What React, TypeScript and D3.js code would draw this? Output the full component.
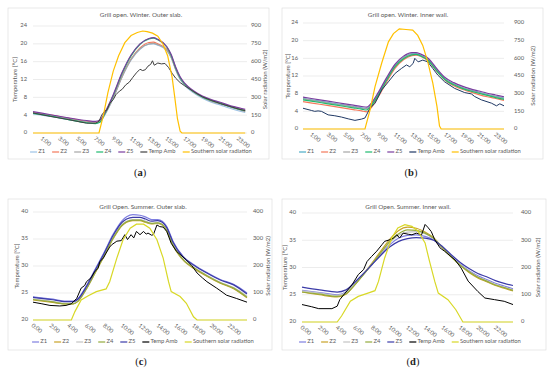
import * as d3 from "d3";

type Pt = [number, number];

const zoneNames = ["Z1", "Z2", "Z3", "Z4", "Z5"];
const winterTicks = [1, 3, 5, 7, 9, 11, 13, 15, 17, 19, 21, 23];
const summerTicks = [0, 2, 4, 6, 8, 10, 12, 14, 16, 18, 20, 22];
const winterTemp = [0, 4, 8, 12, 16, 20, 24];
const winterSolar = [0, 150, 300, 450, 600, 750, 900];
const summerTemp = [20, 25, 30, 35, 40];
const summerSolar = [0, 100, 200, 300, 400];

// (a) winter, outer slab
const aHours = [0, 2, 4, 6, 7, 7.5, 8, 9, 10, 11, 12, 13, 13.5, 14, 15, 15.5, 16, 16.5, 17, 18, 19, 20, 21, 22, 23, 23.8];
const aZ1 = [4.3, 3.7, 3.0, 2.3, 2.2, 2.5, 3.9, 7.8, 12.6, 16.4, 18.8, 19.9, 20.0, 19.7, 18.5, 16.9, 14.2, 12.0, 10.7, 9.0, 7.8, 6.9, 6.3, 5.6, 5.0, 4.6];
const aZ2 = [4.6, 4.0, 3.3, 2.6, 2.4, 2.7, 4.1, 8.0, 12.8, 16.6, 19.1, 20.3, 20.4, 20.0, 18.8, 17.1, 14.4, 12.3, 11.0, 9.3, 8.1, 7.3, 6.7, 6.0, 5.5, 5.1];
const aZ3 = [4.5, 3.9, 3.2, 2.5, 2.3, 2.6, 4.0, 7.9, 12.7, 16.5, 18.9, 20.0, 20.1, 19.8, 18.6, 17.0, 14.3, 12.2, 10.9, 9.2, 8.0, 7.1, 6.5, 5.9, 5.3, 4.8];
const aZ4 = [4.4, 3.8, 3.0, 2.3, 2.1, 2.4, 4.1, 8.4, 13.4, 17.3, 19.9, 21.1, 21.3, 20.9, 19.3, 17.4, 14.6, 12.4, 11.0, 9.3, 8.1, 7.3, 6.7, 6.0, 5.4, 5.0];
const aZ5 = [4.8, 4.1, 3.4, 2.8, 2.6, 2.9, 4.4, 8.6, 13.6, 17.5, 20.0, 21.2, 21.4, 21.0, 19.4, 17.6, 14.8, 12.6, 11.2, 9.5, 8.3, 7.5, 6.9, 6.2, 5.7, 5.3];
const aAmb: Pt[] = [[0, 4.5], [2, 3.7], [4, 3.0], [6, 2.2], [7, 2.2], [7.4, 2.6], [7.7, 4.0], [8, 4.8], [8.3, 5.2], [8.6, 6.6], [9, 7.5], [9.3, 8.6], [9.7, 9.4], [10, 9.8], [10.4, 10.8], [10.8, 11.4], [11.2, 12.5], [11.6, 13.5], [12, 14.3], [12.3, 14.0], [12.6, 14.2], [12.9, 15.0], [13.2, 15.4], [13.4, 16.2], [13.6, 15.2], [14, 15.7], [14.4, 15.5], [14.8, 15.6], [15.2, 14.7], [15.6, 13.4], [16, 12.3], [16.5, 11.3], [17, 10.6], [18, 9.3], [19, 8.1], [20, 7.3], [21, 6.6], [22, 6.0], [23, 5.4], [23.8, 5.0]];
const aSolar: Pt[] = [[0, 0], [7.4, 0], [7.9, 150], [8.4, 340], [9.0, 520], [9.6, 650], [10.3, 760], [11.0, 820], [11.7, 845], [12.3, 858], [12.8, 852], [13.4, 840], [14.0, 815], [14.6, 745], [15.1, 650], [15.6, 470], [15.9, 300], [16.2, 120], [16.5, 15], [16.7, 0], [23.8, 0]];

// (b) winter, inner wall
const bHours = [0, 2, 4, 6, 7, 7.6, 8, 9, 10, 11, 12, 13, 13.5, 14, 15, 16, 17, 18, 19, 20, 21, 22, 23, 24];
const bZ1 = [6.9, 6.3, 5.7, 5.1, 4.8, 4.65, 5.2, 8.0, 11.4, 14.4, 16.2, 17.0, 17.0, 16.7, 15.6, 13.3, 11.3, 10.2, 9.4, 8.8, 8.3, 7.8, 7.4, 7.0];
const bZ2 = [6.2, 5.6, 5.0, 4.4, 4.1, 3.9, 4.5, 7.3, 10.7, 13.8, 15.7, 16.6, 16.7, 16.5, 15.3, 13.0, 11.0, 9.8, 9.0, 8.4, 7.8, 7.3, 6.9, 6.5];
const bZ3 = [6.8, 6.2, 5.6, 5.0, 4.7, 4.55, 5.1, 7.9, 11.3, 14.3, 16.1, 16.9, 16.9, 16.6, 15.5, 13.2, 11.2, 10.1, 9.3, 8.7, 8.2, 7.7, 7.3, 6.9];
const bZ4 = [6.6, 6.0, 5.4, 4.8, 4.5, 4.3, 4.9, 7.7, 11.1, 14.1, 15.9, 16.8, 16.9, 16.6, 15.4, 13.1, 11.1, 10.0, 9.2, 8.6, 8.1, 7.6, 7.1, 6.7];
const bZ5 = [7.2, 6.6, 6.0, 5.4, 5.1, 4.95, 5.5, 8.3, 11.7, 14.7, 16.5, 17.3, 17.3, 17.0, 15.9, 13.6, 11.6, 10.5, 9.7, 9.1, 8.6, 8.1, 7.7, 7.3];
const bAmb: Pt[] = [[0, 4.7], [1, 4.2], [1.4, 4.0], [1.8, 4.1], [2.2, 4.0], [3.0, 3.2], [3.8, 3.0], [4.6, 2.7], [5.4, 2.3], [6.2, 1.95], [7.0, 2.25], [7.4, 2.5], [8.0, 4.7], [8.6, 5.85], [9.4, 8.85], [10.2, 10.7], [11.0, 12.6], [11.75, 13.7], [12.35, 14.5], [12.75, 14.1], [13.15, 14.85], [13.35, 16.0], [13.75, 15.2], [14.3, 15.6], [14.9, 15.2], [15.5, 13.7], [16.1, 12.2], [16.9, 10.7], [18.1, 9.2], [19.3, 8.25], [20.1, 7.95], [20.5, 7.35], [21.3, 6.6], [22.5, 5.85], [23.1, 5.25], [23.5, 5.7], [24, 5.25]];
const bSolar: Pt[] = [[0, 0], [7.4, 0], [8.0, 160], [8.6, 360], [9.4, 560], [10.2, 740], [10.8, 810], [11.5, 850], [12.3, 845], [13.1, 840], [13.7, 795], [14.3, 710], [14.9, 570], [15.5, 390], [16.0, 190], [16.3, 25], [16.5, 0], [24, 0]];

// (c) summer, outer slab
const cHours = [0, 2, 3.7, 4.5, 5, 6, 7, 8, 9, 10, 10.5, 11.2, 12, 12.6, 13.3, 14, 14.5, 15, 15.7, 17, 18, 19.5, 21, 22.5, 24];
const cZ1 = [24.3, 23.9, 23.5, 23.5, 23.9, 26.4, 29.5, 32.6, 35.9, 38.4, 39.1, 39.5, 39.4, 39.1, 38.6, 38.6, 38.3, 37.3, 34.6, 31.5, 30.3, 28.8, 27.5, 26.6, 25.0];
const cZ2 = [23.7, 23.3, 23.0, 23.0, 23.4, 25.8, 28.8, 31.9, 35.1, 37.5, 38.1, 38.4, 38.4, 38.1, 37.8, 37.9, 37.6, 36.5, 33.8, 30.8, 29.6, 28.1, 26.8, 25.8, 24.1];
const cZ3 = [23.9, 23.5, 23.1, 23.1, 23.5, 25.9, 29.0, 32.1, 35.3, 37.7, 38.3, 38.6, 38.6, 38.3, 37.9, 38.0, 37.7, 36.7, 34.0, 31.0, 29.8, 28.3, 27.0, 26.0, 24.4];
const cZ4 = [23.8, 23.4, 23.0, 23.0, 23.4, 25.8, 28.9, 32.0, 35.2, 37.6, 38.2, 38.5, 38.5, 38.2, 37.9, 38.0, 37.7, 36.6, 33.9, 30.9, 29.7, 28.2, 26.9, 25.9, 24.2];
const cZ5 = [24.2, 23.8, 23.4, 23.4, 23.8, 26.2, 29.3, 32.4, 35.7, 38.1, 38.7, 39.0, 39.0, 38.7, 38.3, 38.4, 38.1, 37.1, 34.4, 31.4, 30.2, 28.7, 27.4, 26.5, 24.8];
const cAmb: Pt[] = [[0, 23.3], [1, 23.0], [1.9, 22.7], [3, 22.6], [3.7, 22.7], [4.3, 23.0], [4.9, 24.0], [5.4, 25.9], [5.8, 26.4], [6.0, 27.1], [6.5, 27.8], [6.9, 28.9], [7.3, 29.6], [7.5, 30.8], [7.9, 31.5], [8.2, 32.4], [8.6, 33.5], [8.8, 33.9], [9.4, 34.6], [9.9, 34.7], [10.3, 35.8], [10.6, 34.9], [11.0, 35.8], [11.3, 35.2], [11.6, 36.4], [12.0, 35.8], [12.4, 36.4], [12.7, 35.9], [12.9, 36.1], [13.3, 35.7], [13.5, 35.8], [13.9, 37.6], [14.2, 37.3], [14.6, 37.2], [15.0, 36.4], [15.5, 34.2], [16.1, 32.7], [16.6, 32.0], [17.2, 31.1], [17.8, 30.1], [18.4, 28.7], [19.0, 27.8], [19.5, 27.1], [20.6, 25.9], [21.2, 25.2], [21.7, 24.6], [22.8, 24.0], [24, 23.3]];
const cSolar: Pt[] = [[0, 0], [4.3, 0], [4.7, 31], [5.4, 74], [6.2, 90], [7.1, 105], [8.2, 115], [8.6, 142], [9.4, 229], [10.1, 297], [10.9, 340], [11.6, 355], [12.4, 355], [13.1, 340], [13.9, 297], [14.6, 229], [15.2, 142], [15.5, 105], [16.5, 87], [17.2, 62], [18.0, 12], [18.4, 0], [24, 0]];

// (d) summer, inner wall
const dHours = [0, 2, 4, 5, 6, 7, 8, 9, 10, 11, 12, 13, 14, 15, 16, 17, 18, 19, 20, 21, 22, 23, 24];
const dZ1 = [25.8, 25.4, 25.0, 25.5, 27.0, 28.8, 30.6, 32.5, 34.2, 35.4, 35.9, 36.0, 35.7, 35.0, 33.6, 32.0, 30.6, 29.4, 28.5, 27.8, 27.1, 26.6, 26.1];
const dZ2 = [25.5, 25.0, 24.6, 25.1, 26.8, 28.8, 30.9, 33.1, 35.2, 36.8, 37.4, 37.2, 36.5, 35.4, 33.6, 31.9, 30.4, 29.1, 28.1, 27.4, 26.7, 26.2, 25.7];
const dZ3 = [25.7, 25.3, 24.9, 25.4, 27.0, 28.8, 30.7, 32.7, 34.6, 35.9, 36.5, 36.6, 36.2, 35.3, 33.7, 32.0, 30.5, 29.3, 28.3, 27.6, 26.9, 26.4, 25.9];
const dZ4 = [25.5, 25.1, 24.7, 25.2, 26.8, 28.7, 30.7, 32.8, 34.8, 36.2, 36.9, 36.8, 36.3, 35.3, 33.6, 31.9, 30.4, 29.2, 28.2, 27.5, 26.8, 26.3, 25.8];
const dZ5 = [26.4, 25.9, 25.5, 25.9, 27.3, 28.9, 30.6, 32.3, 33.8, 34.8, 35.3, 35.5, 35.4, 35.0, 33.8, 32.3, 30.9, 29.8, 28.9, 28.3, 27.6, 27.1, 26.7];
const dAmb: Pt[] = [[0, 23.2], [1.1, 22.8], [1.9, 22.45], [3.4, 22.45], [4.0, 22.9], [4.3, 24.1], [4.9, 25.3], [5.7, 26.85], [6.4, 28.7], [7.0, 29.6], [7.4, 31.1], [7.9, 32.0], [8.5, 33.0], [9.1, 34.2], [9.4, 34.8], [10.0, 35.1], [10.4, 35.4], [10.8, 36.0], [11.1, 35.4], [11.5, 36.3], [12.1, 36.1], [12.5, 36.0], [13.0, 36.3], [13.6, 36.0], [14.0, 37.9], [14.3, 37.4], [14.7, 36.6], [15.1, 35.1], [15.7, 33.6], [16.2, 33.0], [17.4, 31.4], [18.1, 29.9], [18.9, 27.5], [20.0, 25.6], [20.8, 24.4], [21.9, 24.1], [23.0, 23.8], [24, 23.2]];
const dSolar: Pt[] = [[0, 0], [4.0, 0], [4.5, 22], [5.5, 76], [6.4, 94], [7.5, 106], [8.3, 115], [8.7, 149], [9.4, 235], [10.2, 308], [10.9, 345], [11.7, 357], [12.5, 351], [13.2, 333], [14.0, 290], [14.5, 223], [15.1, 149], [15.5, 106], [16.6, 82], [17.5, 45], [18.3, 0], [24, 0]];

const FONT = "Lato, 'Open Sans', sans-serif";
const GREY = "#595959";

const ctx = typeof document !== "undefined" ? document.createElement("canvas").getContext("2d") : null;
const textWidth = (s: string, size: number) => {
  if (!ctx) return s.length * size * 0.5;
  ctx.font = `${size}px Lato`;
  return ctx.measureText(s).width;
};

interface PanelProps {
  box: [number, number, number, number];
  left: number; right: number; top: number; bottom: number;
  title: string; titleX: number; titleY: number;
  tTicks: number[]; wTicks: number[]; xTicks: number[];
  hours: number[]; zones: number[][]; amb: Pt[]; solar: Pt[];
  zColors: string[]; ambColor: string; solarColor: string;
  leftTitleX: number; rightTitleX: number; leftLabelX: number; rightLabelX: number;
  legendY: number; legendCx: number;
  caption: string; captionX: number; captionY: number;
}

function Panel(p: PanelProps) {
  const x = d3.scaleLinear().domain([0, 24]).range([p.left, p.right]);
  const y = d3.scaleLinear().domain(d3.extent(p.tTicks) as [number, number]).range([p.bottom, p.top]);
  const yr = d3.scaleLinear().domain(d3.extent(p.wTicks) as [number, number]).range([p.bottom, p.top]);
  const tLine = d3.line<Pt>().x(d => x(d[0])).y(d => y(d[1]));
  const smooth = d3.line<Pt>().x(d => x(d[0])).y(d => y(d[1])).curve(d3.curveMonotoneX);
  const sLine = d3.line<Pt>().x(d => x(d[0])).y(d => yr(d[1]));
  const midY = (p.top + p.bottom) / 2;

  // legend layout, centred under the plot
  const names = [...zoneNames, "Temp Amb", "Southern solar radiation"];
  const colors = [...p.zColors, p.ambColor, p.solarColor];
  const fs = 5.8;
  const widths = names.map(n => 7 + 1.2 + textWidth(n, fs));
  const gap = 7;
  const total = d3.sum(widths) + gap * (names.length - 1);
  let cx = p.legendCx - total / 2;
  const items = names.map((n, i) => {
    const it = { n, c: colors[i], x: cx };
    cx += widths[i] + gap;
    return it;
  });

  return (
    <g>
      <rect x={p.box[0]} y={p.box[1]} width={p.box[2]} height={p.box[3]} fill="#fff" stroke="#d9d9d9" strokeWidth={0.6} />
      <text x={p.titleX} y={p.titleY} fontSize={6.3} fill={GREY} textAnchor="middle" dominantBaseline="middle">{p.title}</text>
      {p.tTicks.map(t => (
        <g key={t}>
          <line x1={p.left} x2={p.right} y1={y(t)} y2={y(t)} stroke="#d9d9d9" strokeWidth={0.5} />
          <text x={p.leftLabelX} y={y(t)} fontSize={5.8} fill={GREY} textAnchor="end" dominantBaseline="middle">{t}</text>
        </g>
      ))}
      {p.wTicks.map(w => (
        <text key={w} x={p.rightLabelX} y={yr(w)} fontSize={5.8} fill={GREY} dominantBaseline="middle">{w}</text>
      ))}
      {p.xTicks.map(h => (
        <text key={h} transform={`translate(${x(h) - 1},${p.bottom + 5}) rotate(38)`} fontSize={5.8} fill={GREY} dominantBaseline="middle">{`${h}:00`}</text>
      ))}
      <text transform={`translate(${p.leftTitleX},${midY}) rotate(-90)`} fontSize={6} fill={GREY} textAnchor="middle" dominantBaseline="middle">Temperature [°C]</text>
      <text transform={`translate(${p.rightTitleX},${midY}) rotate(-90)`} fontSize={6} fill={GREY} textAnchor="middle" dominantBaseline="middle">Solar radiation (W/m2)</text>
      {p.zones.map((vals, i) => (
        <path key={i} d={smooth(p.hours.map((h, j) => [h, vals[j]] as Pt)) ?? ""} fill="none" stroke={p.zColors[i]} strokeWidth={1.2} />
      ))}
      <path d={tLine(p.amb) ?? ""} fill="none" stroke={p.ambColor} strokeWidth={1} />
      <path d={sLine(p.solar) ?? ""} fill="none" stroke={p.solarColor} strokeWidth={1.2} />
      {items.map(it => (
        <g key={it.n}>
          <line x1={it.x} x2={it.x + 7} y1={p.legendY} y2={p.legendY} stroke={it.c} strokeWidth={1.2} />
          <text x={it.x + 8.2} y={p.legendY} fontSize={fs} fill={GREY} dominantBaseline="middle">{it.n}</text>
        </g>
      ))}
      <text x={p.captionX} y={p.captionY} fontSize={10.5} fill="#222" textAnchor="middle" dominantBaseline="middle" fontFamily="'Liberation Serif', 'DejaVu Serif', serif">
        (<tspan fontWeight="bold">{p.caption}</tspan>)
      </text>
    </g>
  );
}

const winterColorsA = ["#9dc3e6", "#f4785a", "#a5a5a5", "#1fba6e", "#7a3d9e"];
const winterColorsB = ["#4bacc6", "#f4785a", "#a5a5a5", "#1fba6e", "#7a3d9e"];
const summerColors = ["#7f7fe0", "#c9a227", "#c4c4c4", "#93ab3c", "#3b3ba8"];

export default function App() {
  return (
    <svg width={550} height={378} style={{ position: "absolute", left: 0, top: 0, fontFamily: FONT }}>
      <rect width={550} height={378} fill="#fff" />
      <Panel box={[8, 8, 261, 151]} left={33} right={247} top={26} bottom={133}
        title="Grill open. Winter. Outer slab." titleX={141} titleY={15}
        tTicks={winterTemp} wTicks={winterSolar} xTicks={winterTicks}
        hours={aHours} zones={[aZ1, aZ2, aZ3, aZ4, aZ5]} amb={aAmb} solar={aSolar}
        zColors={winterColorsA} ambColor="#404040" solarColor="#ffc000"
        leftTitleX={15} rightTitleX={265} leftLabelX={27} rightLabelX={251}
        legendY={152} legendCx={141} caption="a" captionX={140} captionY={174} />
      <Panel box={[282, 8, 261, 151]} left={303} right={504} top={23} bottom={129}
        title="Grill open. Winter. Inner wall." titleX={408} titleY={15}
        tTicks={winterTemp} wTicks={winterSolar} xTicks={winterTicks}
        hours={bHours} zones={[bZ1, bZ2, bZ3, bZ4, bZ5]} amb={bAmb} solar={bSolar}
        zColors={winterColorsB} ambColor="#1f3864" solarColor="#ffc000"
        leftTitleX={288} rightTitleX={533} leftLabelX={298} rightLabelX={514}
        legendY={152} legendCx={410} caption="b" captionX={411} captionY={174} />
      <Panel box={[8, 199, 264, 151]} left={33} right={247} top={212} bottom={320}
        title="Grill Open. Summer. Outer slab." titleX={143} titleY={207}
        tTicks={summerTemp} wTicks={summerSolar} xTicks={summerTicks}
        hours={cHours} zones={[cZ1, cZ2, cZ3, cZ4, cZ5]} amb={cAmb} solar={cSolar}
        zColors={summerColors} ambColor="#000000" solarColor="#d8d826"
        leftTitleX={17} rightTitleX={268} leftLabelX={28} rightLabelX={253}
        legendY={342} legendCx={143} caption="c" captionX={141} captionY={363} />
      <Panel box={[282, 199, 264, 151]} left={302} right={513} top={213} bottom={322}
        title="Grill Open. Summer. Inner wall." titleX={408} titleY={207}
        tTicks={summerTemp} wTicks={summerSolar} xTicks={summerTicks}
        hours={dHours} zones={[dZ1, dZ2, dZ3, dZ4, dZ5]} amb={dAmb} solar={dSolar}
        zColors={summerColors} ambColor="#000000" solarColor="#d8d826"
        leftTitleX={285} rightTitleX={538} leftLabelX={296} rightLabelX={521}
        legendY={342} legendCx={410} caption="d" captionX={413} captionY={363} />
    </svg>
  );
}
